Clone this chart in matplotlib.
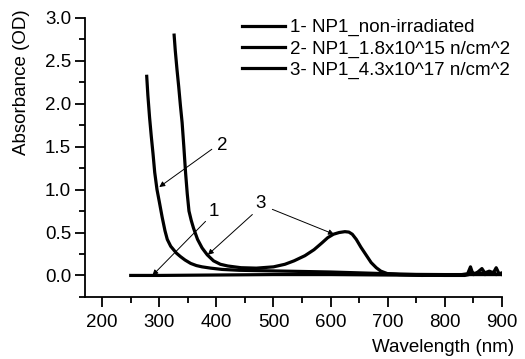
import matplotlib
matplotlib.use("Agg")
import matplotlib.pyplot as plt
from matplotlib.ticker import MultipleLocator, FormatStrFormatter

plt.rcParams["font.family"] = ["Liberation Sans", "DejaVu Sans"]

# -- Data -------------------------------------------------------------------
wl1 = [250, 300, 400, 500, 600, 700, 800, 835, 842, 846, 850, 858, 864, 870,
       878, 886, 890, 895, 900]
ab1 = [0.0, 0.0, 0.005, 0.01, 0.01, 0.005, 0.0, 0.0, 0.01, 0.04, 0.01, 0.02,
       0.03, 0.01, 0.02, 0.04, 0.01, 0.02, 0.01]

wl2 = [278, 280, 283, 286, 289, 292, 296, 300, 305, 310, 314, 320, 330, 337,
       345, 355, 365, 375, 390, 410, 440, 480, 520, 560, 600, 650, 700, 750,
       800, 850, 900]
ab2 = [2.32, 2.10, 1.84, 1.62, 1.42, 1.20, 1.00, 0.86, 0.68, 0.52, 0.42, 0.34,
       0.26, 0.22, 0.18, 0.14, 0.115, 0.10, 0.085, 0.07, 0.06, 0.055, 0.05,
       0.045, 0.04, 0.03, 0.02, 0.012, 0.01, 0.01, 0.01]

wl3 = [326, 328, 331, 334, 337, 340, 343, 346, 349, 352, 356, 360, 367, 375,
       384, 395, 407, 420, 443, 470, 500, 520, 536, 555, 571, 585, 595, 605,
       615, 625, 632, 638, 645, 653, 662, 671, 680, 688, 700, 720, 760, 800,
       830, 840, 845, 848, 852, 858, 865, 870, 878, 885, 890, 895, 900]
ab3 = [2.80, 2.62, 2.40, 2.20, 1.98, 1.78, 1.50, 1.20, 0.95, 0.75, 0.64, 0.55,
       0.42, 0.32, 0.24, 0.17, 0.13, 0.11, 0.09, 0.085, 0.10, 0.13, 0.17, 0.23,
       0.30, 0.38, 0.44, 0.48, 0.50, 0.51, 0.505, 0.48, 0.42, 0.33, 0.24, 0.15,
       0.09, 0.05, 0.02, 0.01, 0.0, 0.005, 0.01, 0.02, 0.10, 0.04, 0.02, 0.04,
       0.08, 0.03, 0.05, 0.03, 0.09, 0.02, 0.03]

labels = ["1- NP1_non-irradiated",
          "2- NP1_1.8x10^15 n/cm^2",
          "3- NP1_4.3x10^17 n/cm^2"]

FS = 13.5

# -- Figure -----------------------------------------------------------------
fig = plt.figure(figsize=(5.25, 3.59), dpi=100)
ax = fig.add_axes([0.162, 0.173, 0.794, 0.777])

for wl, ab, lab in zip((wl1, wl2, wl3), (ab1, ab2, ab3), labels):
    ax.plot(wl, ab, color="black", lw=2.3, label=lab)

ax.set_xlim(170, 900)
ax.set_ylim(-0.25, 3.0)
ax.xaxis.set_major_locator(MultipleLocator(100))
ax.xaxis.set_minor_locator(MultipleLocator(50))
ax.yaxis.set_major_locator(MultipleLocator(0.5))
ax.yaxis.set_minor_locator(MultipleLocator(0.25))
ax.yaxis.set_major_formatter(FormatStrFormatter("%.1f"))

for side in ("top", "right"):
    ax.spines[side].set_visible(False)
for side in ("left", "bottom"):
    ax.spines[side].set_linewidth(1.3)

ax.tick_params(which="major", direction="out", length=7, width=1.3,
               labelsize=FS)
ax.tick_params(which="minor", direction="out", length=4, width=1.3)
ax.tick_params(axis="x", which="major", pad=5)
ax.tick_params(axis="y", which="major", pad=3)

fig.text(22 / 525, 1 - 9 / 359, "Absorbance (OD)", rotation=90,
         ha="center", va="top", fontsize=FS)
fig.text(514 / 525, 1 - 348 / 359, "Wavelength (nm)", ha="right",
         va="center", fontsize=FS)

ax.legend(loc="upper left", bbox_to_anchor=(0.353, 1.03), frameon=False,
          fontsize=FS, handlelength=2.3, handletextpad=0.3,
          labelspacing=0.22, borderpad=0)

# -- Annotations ------------------------------------------------------------
arrow = dict(arrowstyle="-|>", color="black", lw=0.7, mutation_scale=8,
             shrinkA=0, shrinkB=0)
ax.annotate("", xy=(288, 0.0), xytext=(381, 0.63), arrowprops=arrow)
ax.text(396, 0.74, "1", fontsize=FS, ha="center", va="center")

ax.annotate("", xy=(300, 1.03), xytext=(392, 1.47), arrowprops=arrow)
ax.text(410, 1.51, "2", fontsize=FS, ha="center", va="center")

ax.annotate("", xy=(385, 0.24), xytext=(463, 0.71), arrowprops=arrow)
ax.annotate("", xy=(606, 0.48), xytext=(498, 0.77), arrowprops=arrow)
ax.text(478, 0.84, "3", fontsize=FS, ha="center", va="center")

fig.savefig("out.png", dpi=100, facecolor="white")
plt.close(fig)
